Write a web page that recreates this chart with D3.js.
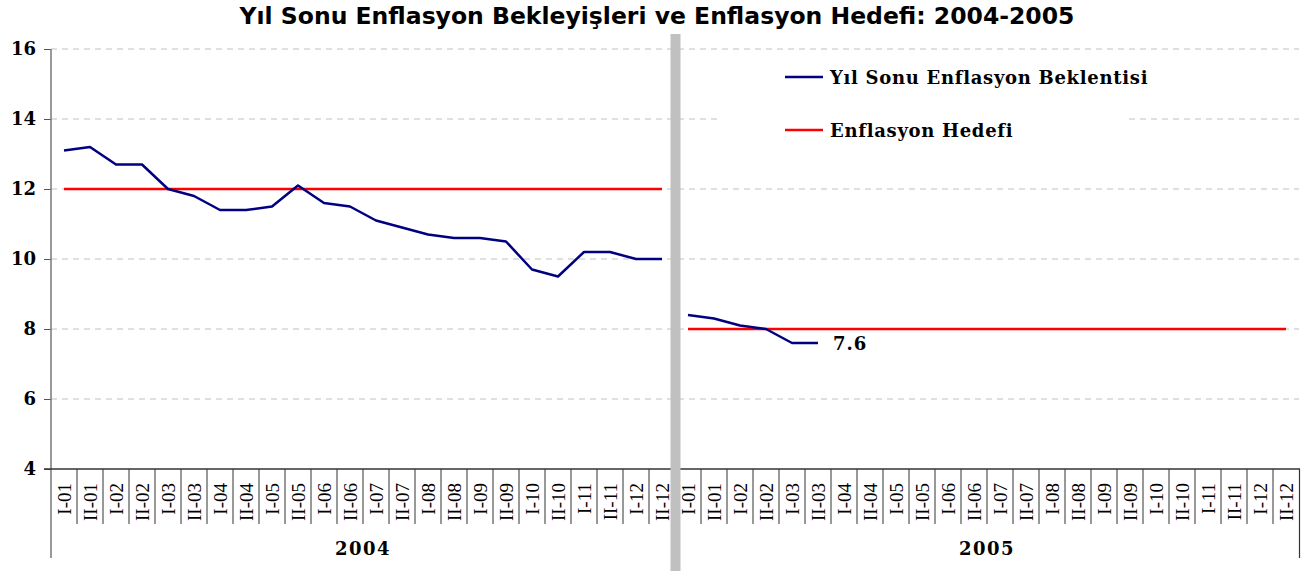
<!DOCTYPE html>
<html>
<head>
<meta charset="utf-8">
<script src="https://cdn.jsdelivr.net/npm/d3@7"></script>
<style>
  body { margin:0; background:#fff; }
  svg { display:block; }
</style>
</head>
<body>
<div id="chart"></div>
<script>
// data
var years = ["2004", "2005"];
var periods = ["I-01","II-01","I-02","II-02","I-03","II-03","I-04","II-04","I-05","II-05","I-06","II-06",
               "I-07","II-07","I-08","II-08","I-09","II-09","I-10","II-10","I-11","II-11","I-12","II-12"];
var expect2004 = [13.1,13.2,12.7,12.7,12.0,11.8,11.4,11.4,11.5,12.1,11.6,11.5,
                  11.1,10.9,10.7,10.6,10.6,10.5,9.7,9.5,10.2,10.2,10.0,10.0];
var expect2005 = [8.4,8.3,8.1,8.0,7.6,7.6];
var targets = [12, 8];
var yTicks = [4,6,8,10,12,14,16];
var seriesNames = ["Yıl Sonu Enflasyon Beklentisi", "Enflasyon Hedefi"];
var lastLabel = "7.6";

var W = 1310, H = 571;
var svg = d3.select("#chart").append("svg").attr("width", W).attr("height", H);

var keys = [];
years.forEach(function(y){ periods.forEach(function(p){ keys.push(y + "|" + p); }); });

var x = d3.scaleBand().domain(keys).range([51, 1299]).padding(0);
var y = d3.scaleLinear().domain([4, 16]).range([469, 49]);
var cx = function(k){ return x(k) + x.bandwidth()/2; };

// title
svg.append("text")
   .attr("x", 657).attr("y", 24)
   .attr("text-anchor", "middle")
   .style("font-family", "'DejaVu Sans', Verdana, sans-serif")
   .style("font-weight", "bold")
   .style("font-size", "23.5px")
   .text("Yıl Sonu Enflasyon Bekleyişleri ve Enflasyon Hedefi: 2004-2005");

// gridlines
svg.append("g").selectAll("line")
   .data(yTicks.filter(function(d){ return d > 4; }))
   .enter().append("line")
   .attr("x1", 51).attr("x2", 1299)
   .attr("y1", function(d){ return y(d); }).attr("y2", function(d){ return y(d); })
   .style("stroke", "#c0c0c0").style("stroke-width", 1)
   .style("stroke-dasharray", "6,5");

// legend box (white, hides gridline)
svg.append("rect")
   .attr("x", 720).attr("y", 56).attr("width", 407).attr("height", 94)
   .attr("fill", "#fff");

// y axis
var yAxis = d3.axisLeft(y).tickValues(yTicks).tickSize(7).tickPadding(8).tickFormat(d3.format("d"));
var gy = svg.append("g").attr("transform", "translate(51,0)").call(yAxis);
gy.select(".domain").remove();
gy.selectAll(".tick line").style("stroke", "#555");
gy.selectAll(".tick text")
  .style("font-family", "'DejaVu Serif', serif")
  .style("font-weight", "bold")
  .style("font-size", "18px")
  .attr("fill", "#000");
svg.append("line").attr("x1", 51).attr("x2", 51).attr("y1", 49).attr("y2", 558)
   .style("stroke", "#777").style("stroke-width", 1.5);

// x axis line
svg.append("line").attr("x1", 44).attr("x2", 1300).attr("y1", 469).attr("y2", 469)
   .style("stroke", "#333").style("stroke-width", 1.5);

// category separators
svg.append("g").selectAll("line")
   .data(keys.slice(1))
   .enter().append("line")
   .attr("x1", function(k){ return x(k); }).attr("x2", function(k){ return x(k); })
   .attr("y1", 469).attr("y2", 524)
   .style("stroke", "#333").style("stroke-width", 1);
svg.append("line").attr("x1", 1299.5).attr("x2", 1299.5).attr("y1", 469).attr("y2", 558)
   .style("stroke", "#333").style("stroke-width", 1.2);

// category labels
svg.append("g").selectAll("text")
   .data(keys)
   .enter().append("text")
   .attr("transform", function(k){ return "translate(" + (cx(k) + 6.5) + ",483) rotate(-90)"; })
   .attr("text-anchor", "end")
   .style("font-family", "'Liberation Serif', 'Times New Roman', serif")
   .style("font-size", "19px")
   .text(function(k){ return k.split("|")[1]; });

// year labels
svg.append("g").selectAll("text")
   .data(years)
   .enter().append("text")
   .attr("x", function(yr){ return (x(yr + "|" + periods[0]) + x(yr + "|" + periods[periods.length-1]) + x.bandwidth())/2; })
   .attr("y", 555)
   .attr("text-anchor", "middle")
   .style("font-family", "'DejaVu Serif', serif")
   .style("font-weight", "bold")
   .style("font-size", "18px")
   .style("letter-spacing", "1.5px")
   .text(function(d){ return d; });

// target lines
years.forEach(function(yr, i){
  svg.append("line")
     .attr("x1", cx(yr + "|" + periods[0]))
     .attr("x2", cx(yr + "|" + periods[periods.length-1]))
     .attr("y1", y(targets[i])).attr("y2", y(targets[i]))
     .style("stroke", "#ff0000").style("stroke-width", 2.5);
});

// expectation lines
var line = d3.line().x(function(d){ return cx(d.k); }).y(function(d){ return y(d.v); });
[expect2004, expect2005].forEach(function(vals, i){
  var pts = vals.map(function(v, j){ return {k: years[i] + "|" + periods[j], v: v}; });
  svg.append("path").datum(pts)
     .attr("d", line)
     .attr("fill", "none")
     .style("stroke", "#000080").style("stroke-width", 2.5)
     .style("stroke-linejoin", "round");
  if (i === 1) {
    var last = pts[pts.length-1];
    svg.append("text")
       .attr("x", cx(last.k) + 15).attr("y", y(last.v) + 7)
       .style("font-family", "'DejaVu Serif', serif")
       .style("font-weight", "bold")
       .style("font-size", "18px")
       .style("letter-spacing", "1px")
       .text(lastLabel);
  }
});

// separator between years
svg.append("rect")
   .attr("x", x(years[1] + "|" + periods[0]) - 4.5).attr("y", 34)
   .attr("width", 10).attr("height", H - 34)
   .attr("fill", "#c0c0c0");

// legend
var legend = svg.append("g").selectAll("g")
   .data(seriesNames)
   .enter().append("g")
   .attr("transform", function(d, i){ return "translate(785," + (77 + i*53) + ")"; });
legend.append("line")
   .attr("x1", 0).attr("x2", 38)
   .style("stroke", function(d, i){ return i === 0 ? "#000080" : "#ff0000"; })
   .style("stroke-width", 2.5);
legend.append("text")
   .attr("x", 45).attr("y", 7)
   .style("font-family", "'DejaVu Serif', serif")
   .style("font-weight", "bold")
   .style("font-size", "18px")
   .style("letter-spacing", "0.7px")
   .text(function(d){ return d; });
</script>
</body>
</html>
